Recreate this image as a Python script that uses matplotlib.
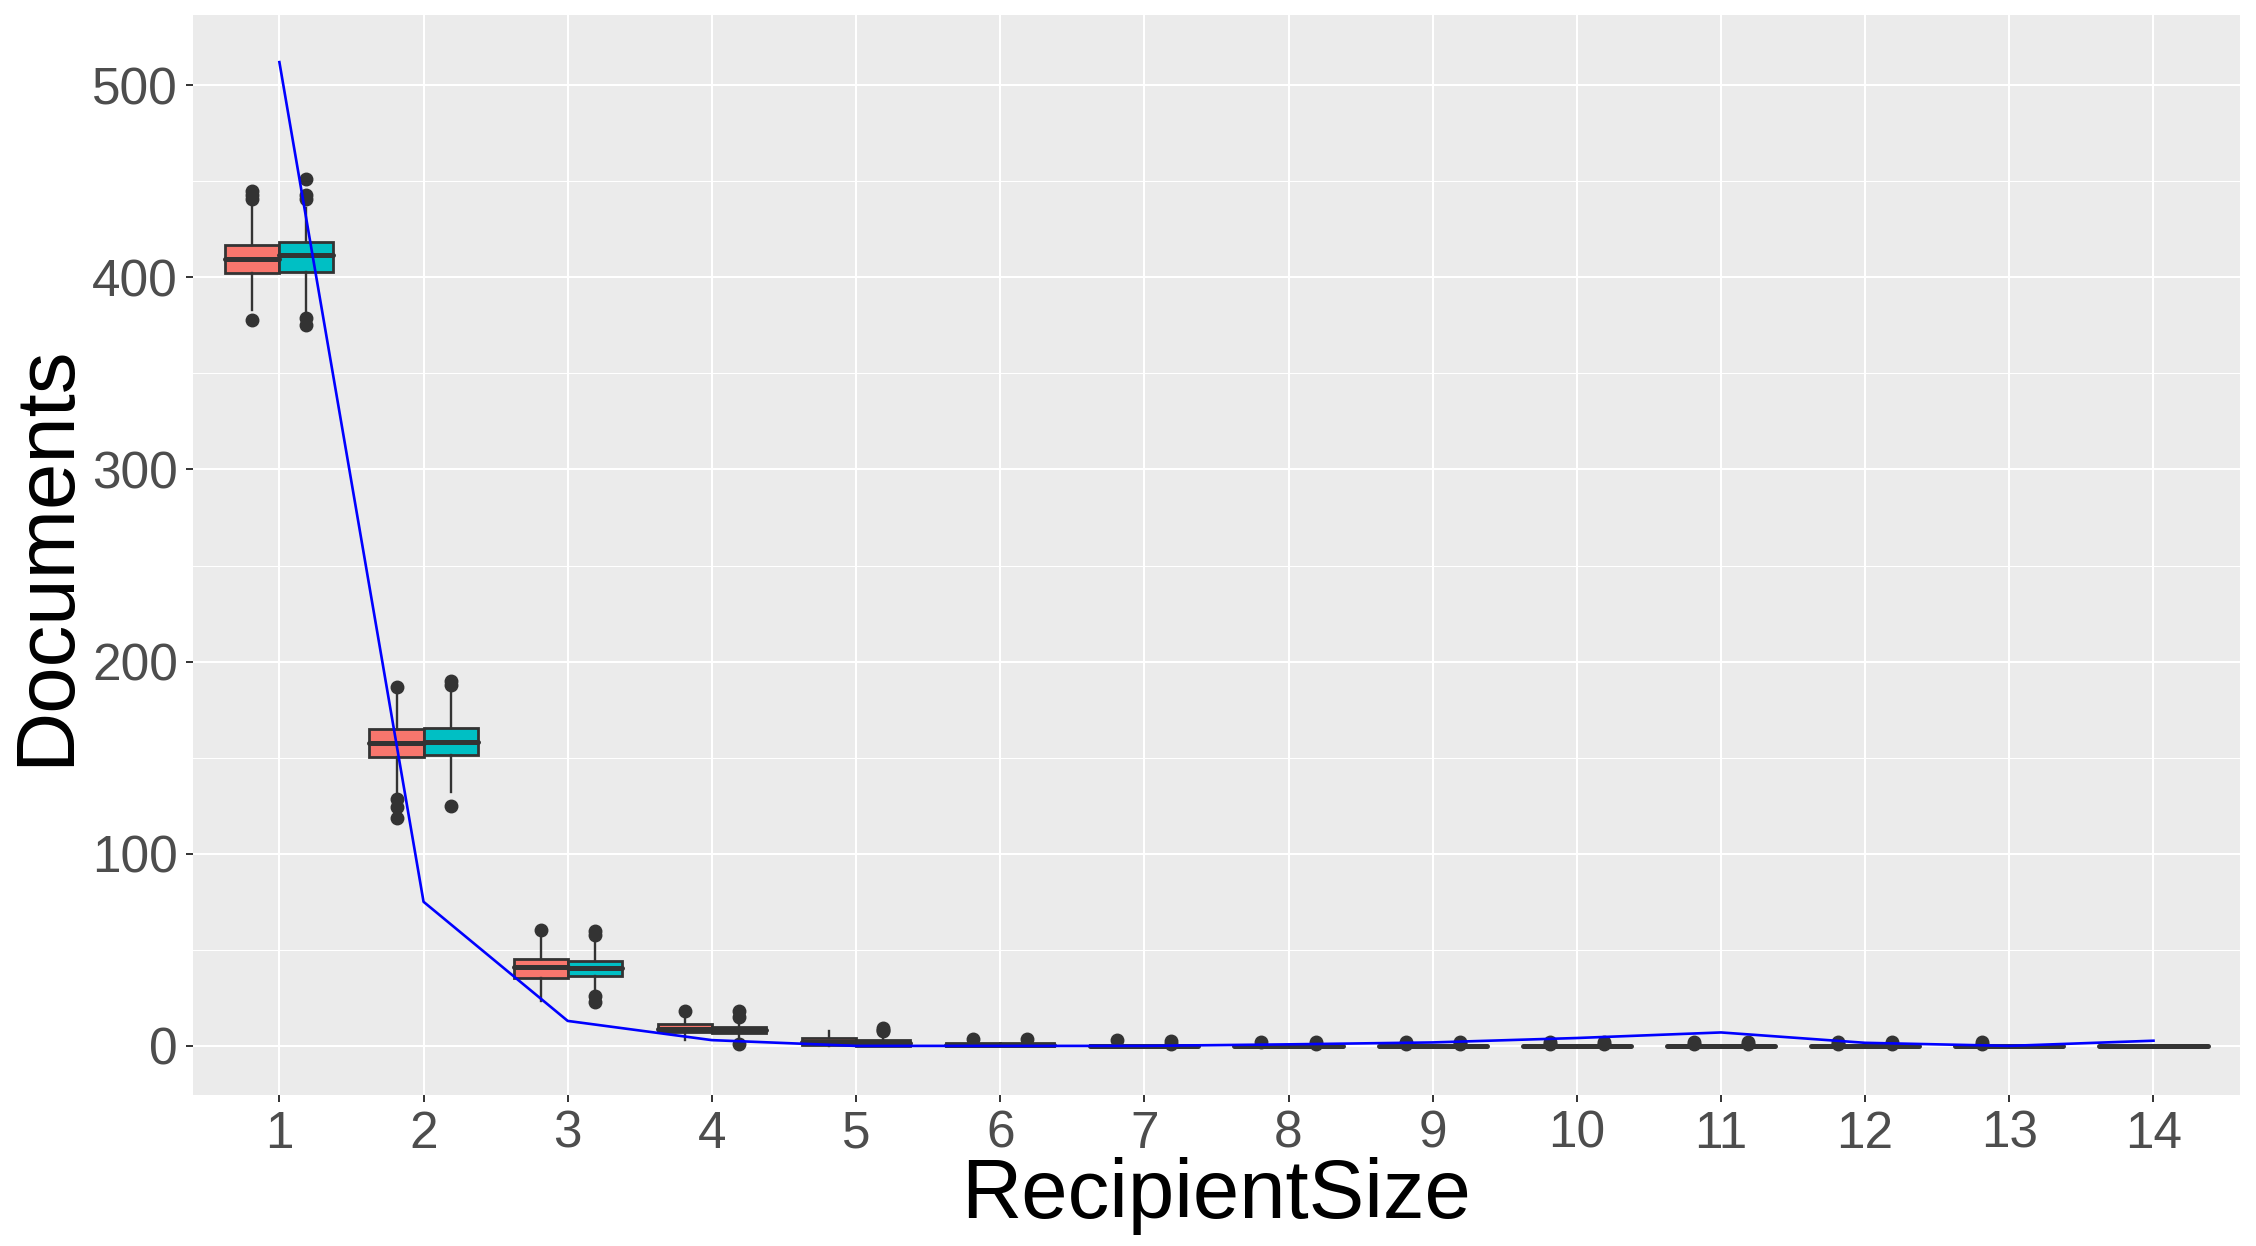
import matplotlib
matplotlib.use("Agg")
import matplotlib.pyplot as plt
import numpy as np

plt.rcParams['font.family'] = ['Liberation Sans', 'DejaVu Sans']

# recipient sizes (x categories)
sizes = list(range(1, 15))

# group A (red) box stats
red_q1 = [402, 150.5, 35.5, 7, 0.5, 0, 0, 0, 0, 0, 0, 0, 0, 0]
red_med = [409.5, 157.4, 41, 9, 2, 0.5, 0, 0, 0, 0, 0, 0, 0, 0]
red_q3 = [417, 164.7, 45, 11.3, 4, 1.5, 0.5, 0, 0, 0, 0, 0, 0, 0]
red_lo = [383, 132, 23.5, 3, 0, 0, 0, 0, 0, 0, 0, 0, 0, 0]
red_hi = [437, 184, 57, 16, 7.5, 3, 1, 0, 0, 0, 0, 0, 0, 0]
red_out = [[441, 443, 445, 378], [187, 128.5, 124.5, 118.5], [60.5], [18], [],
           [3.5], [3], [2], [1, 2], [1, 2], [1, 2], [1, 2], [1, 2], []]

# group B (cyan) box stats
cyan_q1 = [403, 151.3, 36.2, 6.5, 0, 0, 0, 0, 0, 0, 0, 0, 0, 0]
cyan_med = [411.5, 158.3, 40.4, 8.2, 1.5, 0.5, 0, 0, 0, 0, 0, 0, 0, 0]
cyan_q3 = [418.5, 165.6, 44, 10, 3, 1.5, 0.5, 0, 0, 0, 0, 0, 0, 0]
cyan_lo = [382, 132, 28, 3, 0, 0, 0, 0, 0, 0, 0, 0, 0, 0]
cyan_hi = [436, 186, 55, 14, 6, 3, 1, 0, 0, 0, 0, 0, 0, 0]
cyan_out = [[441, 443, 451, 379, 375], [188, 190, 125], [57.5, 60, 26, 23], [15, 18, 1],
            [7.5, 8.5, 9.5], [3.5], [1, 2.5], [1, 2], [1, 2], [1, 2], [1, 2], [1, 2], [], []]

# blue line values
line_vals = [512, 75, 13, 3, 0, 0, 0, 0.8, 1.8, 4.1, 7, 1.6, 0, 2.7]


def make_stats(q1, med, q3, lo, hi, out):
    stats = []
    for i in range(len(q1)):
        stats.append({'q1': q1[i], 'med': med[i], 'q3': q3[i],
                      'whislo': lo[i], 'whishi': hi[i], 'fliers': out[i]})
    return stats


fig = plt.figure(figsize=(22.56, 12.46), dpi=100)
ax = fig.add_axes([0.0855, 0.1212, 0.9074, 0.8668])
ax.set_facecolor('#EBEBEB')
for s in ax.spines.values():
    s.set_visible(False)

edge = '#333333'
x = np.array(sizes, dtype=float)
for stats, off, col in [(make_stats(red_q1, red_med, red_q3, red_lo, red_hi, red_out), -0.1875, '#F8766D'),
                        (make_stats(cyan_q1, cyan_med, cyan_q3, cyan_lo, cyan_hi, cyan_out), 0.1875, '#00BFC4')]:
    ax.bxp(stats, positions=x + off, widths=0.375, patch_artist=True, showcaps=False,
           manage_ticks=False,
           boxprops=dict(facecolor=col, edgecolor=edge, linewidth=2.0),
           whiskerprops=dict(color=edge, linewidth=1.7),
           medianprops=dict(color=edge, linewidth=3.6, solid_capstyle='round'),
           flierprops=dict(marker='o', markerfacecolor=edge, markeredgecolor=edge,
                           markersize=9.0, linestyle='none'),
           zorder=3)

ax.plot(x, line_vals, color='#0000FF', linewidth=1.9, zorder=4)

ax.set_xlim(0.4, 14.6)
ax.set_ylim(-25.55, 536.55)
ax.set_xticks(sizes)
ax.set_xticklabels([str(v) for v in sizes])
ax.set_yticks([0, 100, 200, 300, 400, 500])
ax.set_yticks([50, 150, 250, 350, 450], minor=True)
ax.grid(which='major', color='white', linewidth=1.5, zorder=0)
ax.grid(which='minor', axis='y', color='white', linewidth=0.75, zorder=0)
ax.set_axisbelow(True)

ax.tick_params(which='major', length=4.8, width=1.4, color=edge, labelcolor='#4D4D4D',
               labelsize=37, pad=6)
ax.tick_params(which='minor', length=0)

ax.set_xlabel('RecipientSize', fontsize=60, color='black')
ax.set_ylabel('Documents', fontsize=60, color='black')
ax.xaxis.set_label_coords(0.5, -0.057)
ax.yaxis.set_label_coords(-0.0525, 0.5)

fig.savefig('out.png', dpi=100)
